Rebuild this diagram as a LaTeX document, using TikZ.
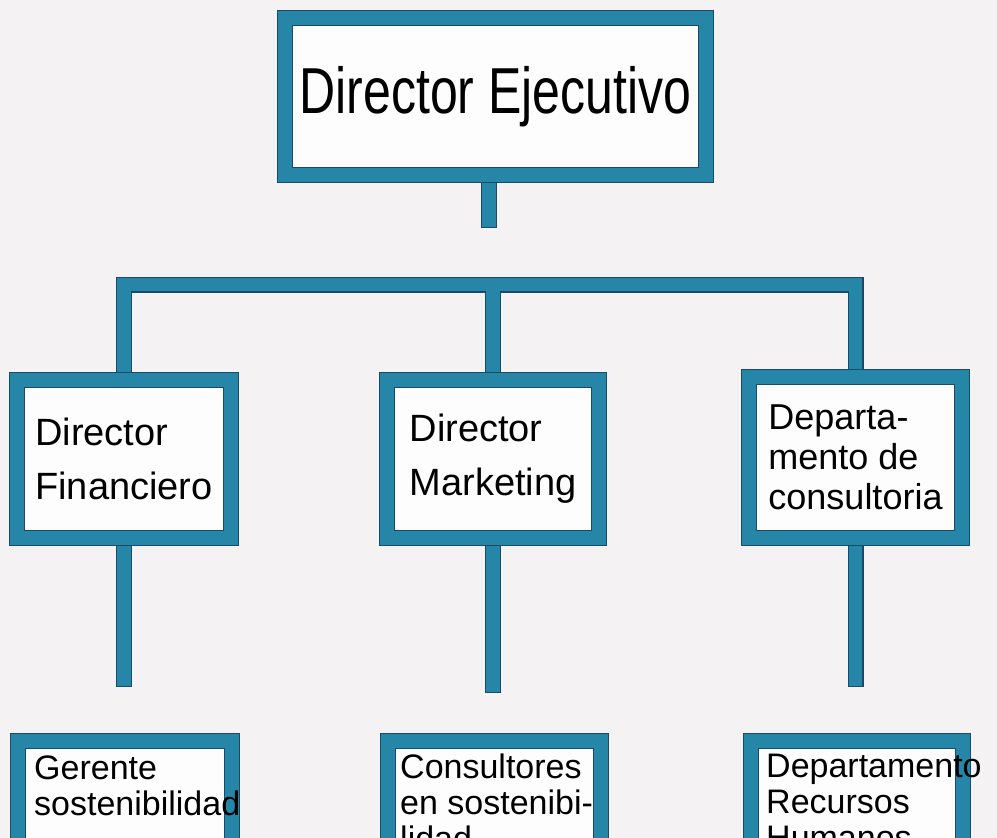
\documentclass[tikz,border=0pt]{standalone}
\usepackage{fontspec}
\setmainfont{Liberation Sans}
\usetikzlibrary{backgrounds,calc}
\definecolor{band}{HTML}{2686A8}
\definecolor{edge}{HTML}{1A4A68}
\definecolor{paper}{HTML}{F4F2F2}
\definecolor{innerw}{HTML}{FDFDFD}
\newcommand\orglinks[1]{%
  \draw[#1] (ceo.south -| ceoEnd) -- (ceoEnd);
  \draw[#1] (fin.north) -- (fin.north |- bar) -- (con.north |- bar) -- (con.north);
  \draw[#1] (mkt.north) -- (mkt.north |- bar);
  \draw[#1] (fin.south) -- (fin.south |- lowA);
  \draw[#1] (mkt.south) -- (mkt.south |- lowB);
  \draw[#1] (con.south) -- (con.south |- lowA);
}
\begin{document}
\begin{tikzpicture}[x=1pt,y=-1pt,
  box/.style={draw=edge, line width=1.2pt, double=band, double distance=13.6pt, fill=innerw, inner sep=0pt, align=left, text=black},
  lab/.style={align=left, inner sep=0pt, text=black},
  linkout/.style={draw=edge, line width=16pt},
  linkin/.style={draw=band, line width=13.6pt, shorten >=1.2pt},
  midfont/.style={font=\fontsize{38}{54}\selectfont},
  lowfont/.style={font=\fontsize{34}{36}\selectfont},
]
\useasboundingbox (0,0) rectangle (997,838);
\clip (0,0) rectangle (997,838);

% top
\node[box, minimum width=421pt, minimum height=157pt] (ceo) at (495.5,96.5)
  {\fontsize{50}{50}\selectfont\scalebox{1}[1.3]{Director Ejecutivo}};

% middle row
\node[box, midfont, minimum width=214pt, minimum height=158pt] (fin) at (124,459)
  {Director\\Financiero};
\node[box, midfont, minimum width=212pt, minimum height=158pt] (mkt) at (493,459)
  {Director\\Marketing};
\node[box, font=\fontsize{36}{40}\selectfont, minimum width=213pt, minimum height=161pt] (con) at (855.5,457.5)
  {Departa-\\mento de\\consultoria};

% bottom row (cut by the page edge)
\node[box, minimum width=214pt, minimum height=157pt] (g1) at (125,819.5) {};
\node[box, minimum width=213pt, minimum height=157pt] (g2) at (494.5,819.5) {};
\node[box, minimum width=212pt, minimum height=157pt] (g3) at (857,819.5) {};
\node[lab, lowfont, anchor=north west] (g1t) at (34,756) {Gerente\\sostenibilidad};
\node[lab, lowfont, anchor=north west] (g2t) at (400,754) {Consultores\\en sostenibi-\\lidad};
\node[lab, lowfont, anchor=north west] (g3t) at (766,754) {Departamento\\Recursos\\Humanos};

\begin{scope}[on background layer]
  \fill[paper] (0,0) rectangle (997,838);
  \coordinate (ceoEnd) at (489,228);
  \coordinate (bar) at (0,284.5);
  \coordinate (lowA) at (0,687);
  \coordinate (lowB) at (0,693);
  \orglinks{linkout}
  \orglinks{linkin}
\end{scope}
\end{tikzpicture}
\end{document}
